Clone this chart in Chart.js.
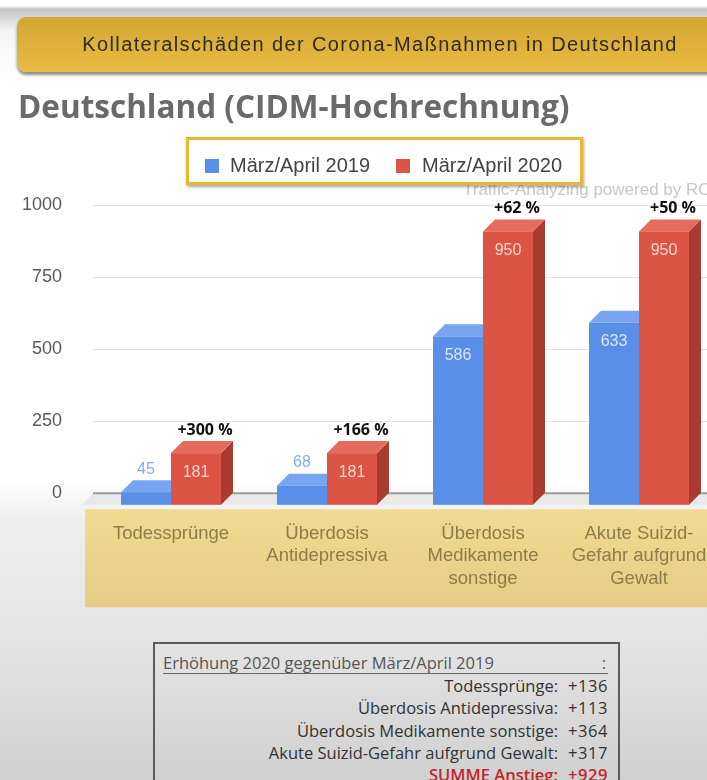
<!DOCTYPE html>
<html lang="de">
<head>
<meta charset="utf-8">
<title>Kollateralschäden der Corona-Maßnahmen in Deutschland</title>
<script src="https://cdn.jsdelivr.net/npm/chart.js@4.4.1/dist/chart.umd.min.js"></script>
<style>
    html, body { margin: 0; padding: 0; }
    body {
        width: 707px; height: 780px; overflow: hidden; position: relative;
        font-family: Arial, "Liberation Sans", sans-serif;
        background: linear-gradient(to bottom,
            #ffffff 0px, #ffffff 6px, #c4c4c4 9px, #f3f3f3 30px, #ffffff 80px,
            #ffffff 480px, #eeeeee 520px, #e4e4e4 640px, #d0d0d0 780px);
    }
    #chart { position: absolute; left: 0; top: 0; z-index: 1; }
    #banner {
        position: absolute; left: 17px; top: 17px; width: 726px; height: 55px;
        border-radius: 9px; z-index: 2;
        background: linear-gradient(to bottom, #d3a633, #eabb43);
        box-shadow: 0 3px 3px rgba(0, 0, 0, 0.45);
        text-align: center; line-height: 55px; font-size: 20px; letter-spacing: 1.4px;
        color: #2f2a1c; white-space: nowrap;
    }
    #title {
        position: absolute; left: 18px; top: 85px; z-index: 2;
        font-family: "Open Sans", sans-serif; font-weight: 700; font-size: 31.5px;
        line-height: 42px; color: #6a6a6a; white-space: nowrap;
    }
    #watermark {
        position: absolute; left: 463px; top: 180px; z-index: 2;
        font-size: 17px; color: #c8c8c8; white-space: nowrap;
    }
    #legendbox {
        position: absolute; left: 186px; top: 137px; width: 397px; height: 48px;
        box-sizing: border-box; border: 3px solid #e8b830; background: #fff;
        box-shadow: 1px 2px 3px rgba(0, 0, 0, 0.35); z-index: 3;
    }
    .lg-sw { position: absolute; width: 14px; height: 14px; top: 159px; z-index: 4; }
    .lg-tx { position: absolute; top: 153px; font-size: 20px; line-height: 24px; color: #444; z-index: 4; white-space: nowrap; }
    #summary {
        position: absolute; left: 153px; top: 642px; width: 467px; height: 160px;
        box-sizing: border-box; border: 2px solid #5c5c5c; z-index: 2;
        font-family: "Open Sans", sans-serif; font-size: 16.5px; color: #333;
    }
    #summary .head {
        position: absolute; left: 8px; top: 8px; width: 445px; height: 21px;
        border-bottom: 1px solid #666; line-height: 22px; color: #555;
    }
    #summary .head span { position: absolute; right: 2px; }
    #summary .row { position: absolute; left: 0; width: 100%; height: 22px; line-height: 22px; }
    #summary .lbl { position: absolute; right: 60px; white-space: nowrap; }
    #summary .val { position: absolute; left: 413px; letter-spacing: 0.6px; }
    #summary .total { color: #c0262b; font-weight: 600; }
</style>
</head>
<body>
<div id="banner">Kollateralschäden der Corona-Maßnahmen in Deutschland</div>
<div id="title">Deutschland (CIDM-Hochrechnung)</div>
<div id="watermark">Traffic-Analyzing powered by RONDO</div>
<div id="legendbox"></div>
<div id="legend"></div>
<canvas id="chart" width="740" height="620"></canvas>
<div id="summary"></div>

<script>
// Chart data
const categories = [
    ["Todessprünge"],
    ["Überdosis", "Antidepressiva"],
    ["Überdosis", "Medikamente", "sonstige"],
    ["Akute Suizid-", "Gefahr aufgrund", "Gewalt"]
];
const seriesNames = ["März/April 2019", "März/April 2020"];
const values2019 = [45, 68, 586, 633];
const values2020 = [181, 181, 950, 950];
const increaseLabels = ["+300 %", "+166 %", "+62 %", "+50 %"];

// Summary box below the chart
const summaryHeader = "Erhöhung 2020 gegenüber März/April 2019";
const summaryLabels = [
    "Todessprünge:",
    "Überdosis Antidepressiva:",
    "Überdosis Medikamente sonstige:",
    "Akute Suizid-Gefahr aufgrund Gewalt:"
];
const summaryValues = ["+136", "+113", "+364", "+317"];
const summaryTotalLabel = "SUMME Anstieg:";
const summaryTotalValue = "+929";

// Colours for the front, top and side faces of the 3D bars
const faceColors = [
    { front: "#5a8fe9", top: "#77a5f2", side: "#3f6fc4", inside: "#dbe6fb", outside: "#86aaf0" },
    { front: "#dc5443", top: "#e56c5d", side: "#a93c2f", inside: "#f7d6cf", outside: "#e0695b" }
];
const depth = 12;

/**
 * Builds the HTML legend above the chart.
 */
function build_legend() {
    const legend = document.getElementById("legend");
    const swatchX = [205, 396];
    const textX = [230, 422];
    seriesNames.forEach(function (name, i) {
        const sw = document.createElement("div");
        sw.className = "lg-sw";
        sw.style.left = swatchX[i] + "px";
        sw.style.background = faceColors[i].front;
        legend.appendChild(sw);
        const tx = document.createElement("div");
        tx.className = "lg-tx";
        tx.style.left = textX[i] + "px";
        tx.textContent = name;
        legend.appendChild(tx);
    });
}

/**
 * Builds the summary table with the increases.
 */
function build_summary() {
    const box = document.getElementById("summary");
    const head = document.createElement("div");
    head.className = "head";
    head.textContent = summaryHeader;
    const colon = document.createElement("span");
    colon.textContent = ":";
    head.appendChild(colon);
    box.appendChild(head);

    const rows = summaryLabels.map(function (l, i) { return [l, summaryValues[i], false]; });
    rows.push([summaryTotalLabel, summaryTotalValue, true]);
    rows.forEach(function (r, i) {
        const row = document.createElement("div");
        row.className = "row" + (r[2] ? " total" : "");
        row.style.top = (31 + i * 22.3) + "px";
        const lbl = document.createElement("span");
        lbl.className = "lbl";
        lbl.textContent = r[0];
        const val = document.createElement("span");
        val.className = "val";
        val.textContent = r[1];
        row.appendChild(lbl);
        row.appendChild(val);
        box.appendChild(row);
    });
}

// Draws the gold band behind the category labels, the floor and the 3D bars
const threeDBars = {
    id: "threeDBars",
    beforeDraw(chart) {
        const ctx = chart.ctx;
        const y0 = chart.scales.y.getPixelForValue(0);
        const g = ctx.createLinearGradient(0, y0 + 16, 0, y0 + 114);
        g.addColorStop(0, "#f0da92");
        g.addColorStop(1, "#e6cc84");
        ctx.save();
        ctx.fillStyle = g;
        ctx.fillRect(85, y0 + 16, chart.width - 85, 98);
        ctx.restore();
    },
    beforeDatasetsDraw(chart) {
        const ctx = chart.ctx;
        const area = chart.chartArea;
        const y0 = chart.scales.y.getPixelForValue(0);
        ctx.save();
        ctx.fillStyle = "#e9e9e9";
        ctx.beginPath();
        ctx.moveTo(area.left, y0);
        ctx.lineTo(chart.width, y0);
        ctx.lineTo(chart.width, y0 + depth);
        ctx.lineTo(area.left - depth, y0 + depth);
        ctx.closePath();
        ctx.fill();
        ctx.strokeStyle = "#9c9c9c";
        ctx.lineWidth = 2;
        ctx.beginPath();
        ctx.moveTo(area.left, y0);
        ctx.lineTo(chart.width, y0);
        ctx.stroke();
        ctx.restore();
    },
    beforeDatasetDraw() {
        return false;
    },
    afterDatasetsDraw(chart) {
        const ctx = chart.ctx;
        ctx.save();
        chart.data.datasets.forEach(function (ds, i) {
            const c = faceColors[i];
            chart.getDatasetMeta(i).data.forEach(function (bar, j) {
                const l = bar.x - bar.width / 2;
                const r = bar.x + bar.width / 2;
                const top = bar.y + depth;
                const bottom = bar.base + depth;

                ctx.fillStyle = c.side;
                ctx.beginPath();
                ctx.moveTo(r, top);
                ctx.lineTo(r + depth, top - depth);
                ctx.lineTo(r + depth, bottom - depth);
                ctx.lineTo(r, bottom);
                ctx.closePath();
                ctx.fill();

                ctx.fillStyle = c.top;
                ctx.beginPath();
                ctx.moveTo(l, top);
                ctx.lineTo(r, top);
                ctx.lineTo(r + depth, top - depth);
                ctx.lineTo(l + depth, top - depth);
                ctx.closePath();
                ctx.fill();

                ctx.fillStyle = c.front;
                ctx.fillRect(l, top, r - l, bottom - top);

                // value label: inside the bar if it is tall enough, else above it
                ctx.font = "16px Arial";
                ctx.textAlign = "center";
                ctx.textBaseline = "middle";
                if (bottom - top >= 40) {
                    ctx.fillStyle = c.inside;
                    ctx.fillText(ds.data[j], bar.x, top + 19);
                } else {
                    ctx.fillStyle = c.outside;
                    ctx.fillText(ds.data[j], bar.x, bar.y - 11);
                }

                if (i === 1) {
                    ctx.font = "bold 16px 'Open Sans'";
                    ctx.fillStyle = "#111";
                    ctx.fillText(increaseLabels[j], bar.x + 9, bar.y - 11);
                }
            });
        });
        ctx.restore();
    }
};

build_legend();
build_summary();

new Chart(document.getElementById("chart"), {
    type: "bar",
    data: {
        labels: categories,
        datasets: [
            { label: seriesNames[0], data: values2019, backgroundColor: faceColors[0].front },
            { label: seriesNames[1], data: values2020, backgroundColor: faceColors[1].front }
        ]
    },
    options: {
        responsive: false,
        animation: false,
        events: [],
        categoryPercentage: 0.641,
        barPercentage: 1.0,
        layout: { padding: { top: 205, left: 22, right: 23, bottom: 1 } },
        plugins: {
            legend: { display: false },
            tooltip: { enabled: false }
        },
        scales: {
            x: {
                grid: { display: false, drawTicks: false },
                border: { display: false },
                ticks: {
                    color: "#8d7c4c",
                    font: { family: "Arial", size: 18.5, lineHeight: 1.22 },
                    padding: 29,
                    maxRotation: 0,
                    autoSkip: false
                }
            },
            y: {
                min: 0,
                max: 1000,
                grid: { color: "#e3e3e3", drawTicks: false },
                border: { display: false },
                afterFit: function (scale) { scale.width = 71; },
                ticks: {
                    stepSize: 250,
                    color: "#5a5a5a",
                    font: { family: "Arial", size: 18 },
                    padding: 31,
                    callback: function (value) { return String(value); }
                }
            }
        }
    },
    plugins: [threeDBars]
});
</script>
</body>
</html>
